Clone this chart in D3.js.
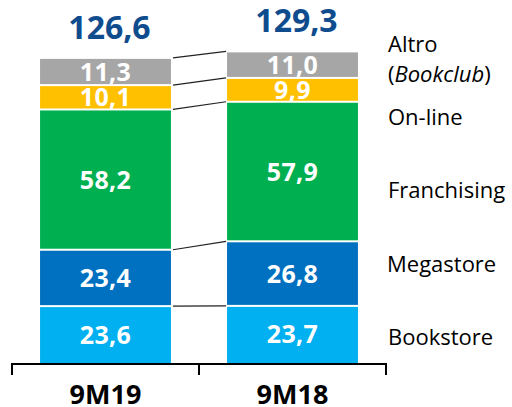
<!DOCTYPE html>
<html><head><meta charset="utf-8">
<script src="https://cdn.jsdelivr.net/npm/d3@7"></script>
<style>html,body{margin:0;padding:0;background:#fff;}svg{display:block;}</style>
</head><body>
<script>
const categories = ["9M19", "9M18"];
const seriesNames = ["Bookstore", "Megastore", "Franchising", "On-line", "Altro"];
const bookstore = [23.6, 23.7];
const megastore = [23.4, 26.8];
const franchising = [58.2, 57.9];
const online = [10.1, 9.9];
const altro = [11.3, 11.0];
const totals = [126.6, 129.3];
const colors = ["#00b0f0", "#0070c0", "#00b050", "#ffc000", "#a6a6a6"];

const W = 512, H = 407;
const svg = d3.select("body").append("svg").attr("width", W).attr("height", H);

const rows = categories.map((c, i) => ({
  cat: c, Bookstore: bookstore[i], Megastore: megastore[i], Franchising: franchising[i],
  "On-line": online[i], Altro: altro[i], total: totals[i]
}));
const stacked = d3.stack().keys(seriesNames)(rows);

const x = d3.scaleBand().domain(categories).range([12, 386]).paddingInner(0.3).paddingOuter(0.15);
const y = d3.scaleLinear().domain([0, 140]).range([363, 363 - 140 * 2.41]);
const fmt = v => d3.format(".1f")(v).replace(".", ",");
const font = "'Open Sans', sans-serif";

// bars
stacked.forEach((layer, si) => {
  svg.append("g").selectAll("rect").data(layer).join("rect")
    .attr("x", d => x(d.data.cat))
    .attr("width", x.bandwidth())
    .attr("y", d => y(d[1]) + 1)
    .attr("height", d => y(d[0]) - y(d[1]) - (si === 0 ? 1 : 2))
    .attr("fill", colors[si]);
  svg.append("g").selectAll("text").data(layer).join("text")
    .attr("x", d => x(d.data.cat) + x.bandwidth() / 2)
    .attr("y", d => (y(d[0]) + y(d[1])) / 2 + 9)
    .attr("text-anchor", "middle")
    .attr("font-family", font).attr("font-weight", 700)
    .attr("font-size", 25).attr("letter-spacing", 0.4).attr("fill", "#fff")
    .text(d => fmt(d[1] - d[0]));
});

// connector lines
const x0r = x(categories[0]) + x.bandwidth(), x1l = x(categories[1]);
svg.append("g").selectAll("line").data(stacked).join("line")
  .attr("x1", x0r + 2).attr("x2", x1l - 1)
  .attr("y1", d => y(d[0][1]))
  .attr("y2", d => y(d[1][1]))
  .attr("stroke", "#222").attr("stroke-width", 1.2);

// totals
svg.append("g").selectAll("text").data(rows).join("text")
  .attr("x", d => x(d.cat) + x.bandwidth() / 2 + 4)
  .attr("y", d => y(d.total) - 19)
  .attr("text-anchor", "middle")
  .attr("font-family", font).attr("font-weight", 700)
  .attr("font-size", 32).attr("fill", "#0f4c8e")
  .text(d => fmt(d.total));

// axis
const [r0, r1] = x.range();
const ax = svg.append("g");
ax.append("line").attr("x1", r0).attr("x2", r1).attr("y1", 364).attr("y2", 364)
  .attr("stroke", "#000").attr("stroke-width", 2);
d3.range(categories.length + 1).forEach(i => {
  const tx = r0 + i * x.step();
  ax.append("line").attr("x1", tx).attr("x2", tx).attr("y1", 363).attr("y2", 375)
    .attr("stroke", "#000").attr("stroke-width", 2);
});
ax.selectAll("text").data(categories).join("text")
  .attr("x", d => x(d) + x.bandwidth() / 2)
  .attr("y", 404)
  .attr("text-anchor", "middle")
  .attr("font-family", font).attr("font-weight", 700)
  .attr("font-size", 27).attr("fill", "#000")
  .text(d => d);

// legend labels
const legend = [
  { t: "Altro", y: 52, x: 388 },
  { t: "On-line", y: 125, x: 388 },
  { t: "Franchising", y: 198, x: 388 },
  { t: "Megastore", y: 272, x: 387 },
  { t: "Bookstore", y: 345, x: 388 }
];
const lg = svg.append("g").attr("font-family", font).attr("font-size", 22).attr("fill", "#000");
legend.forEach(l => lg.append("text").attr("x", l.x).attr("y", l.y).text(l.t));
const bc = lg.append("text").attr("x", 388).attr("y", 82);
bc.append("tspan").text("(");
bc.append("tspan").attr("font-style", "italic").text("Bookclub");
bc.append("tspan").text(")");
</script>
</body></html>
